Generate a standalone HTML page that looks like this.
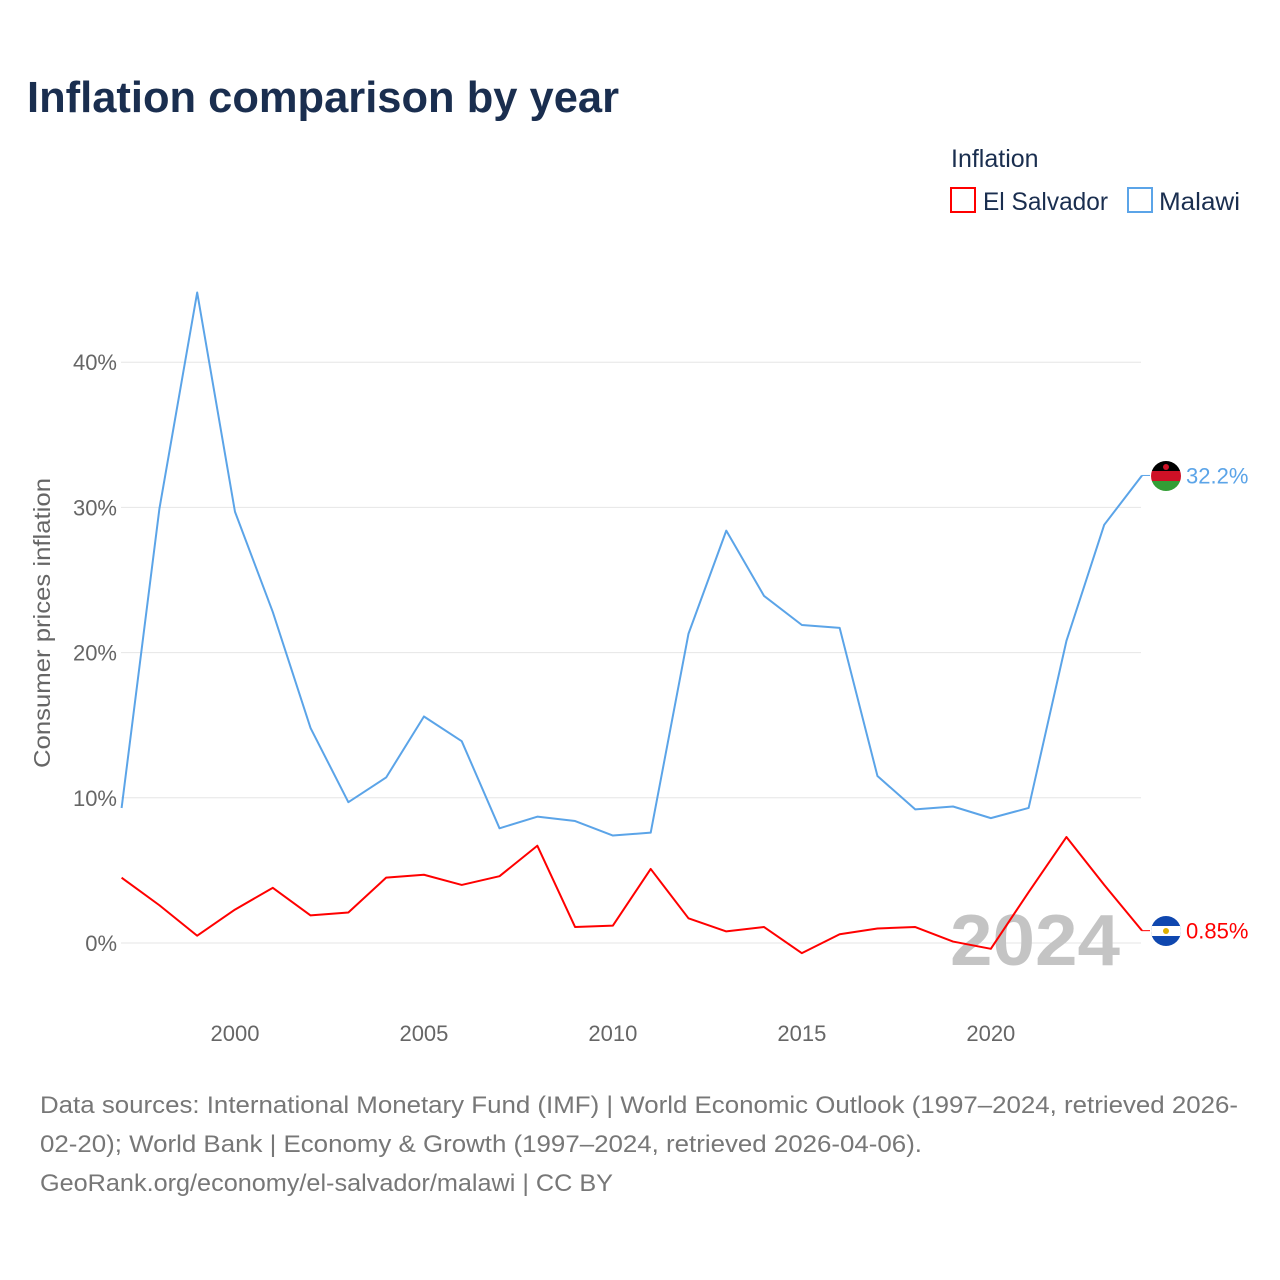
<!DOCTYPE html>
<html><head><meta charset="utf-8"><style>
body{margin:0;background:#fff;font-family:"Liberation Sans",sans-serif;}
#wrap{position:relative;width:1280px;height:1280px;overflow:hidden;}
</style></head><body>
<div id="wrap">
<svg id="chart" width="1280" height="1280">
<text x="27" y="112" font-size="44" font-weight="bold" fill="#1a2e4f" textLength="592" lengthAdjust="spacingAndGlyphs">Inflation comparison by year</text>
<text x="951" y="167" font-size="25" fill="#1a2e4f">Inflation</text>
<g>
<rect x="951" y="188" width="24" height="24" fill="none" stroke="#ff0000" stroke-width="2"/>
<text x="983" y="210" font-size="25" fill="#1a2e4f" textLength="125" lengthAdjust="spacingAndGlyphs">El Salvador</text></g>
<g>
<rect x="1128" y="188" width="24" height="24" fill="none" stroke="#5ba4e8" stroke-width="2"/>
<text x="1159" y="210" font-size="25" fill="#1a2e4f" textLength="81" lengthAdjust="spacingAndGlyphs">Malawi</text></g>
<g id="grid"></g>
<g id="yt"></g>
<g id="xt"></g>
<text x="950" y="965" font-size="72" font-weight="bold" fill="#c4c4c4" textLength="170" lengthAdjust="spacingAndGlyphs">2024</text>
<text transform="translate(50,623) rotate(-90)" text-anchor="middle" font-size="23" fill="#666" textLength="290" lengthAdjust="spacingAndGlyphs">Consumer prices inflation</text>
<g id="series"></g>
<g>
<clipPath id="c1"><circle cx="1166" cy="476" r="15"/></clipPath>
<g clip-path="url(#c1)"><rect x="1150" y="460" width="32" height="11" fill="#000"/><rect x="1150" y="471" width="32" height="10" fill="#ce1126"/><rect x="1150" y="481" width="32" height="11" fill="#339e35"/><circle cx="1166" cy="467" r="3" fill="#ce1126"/></g></g>
<g>
<clipPath id="c2"><circle cx="1166" cy="931" r="15"/></clipPath>
<g clip-path="url(#c2)"><rect x="1150" y="915" width="32" height="32" fill="#0f47af"/><rect x="1150" y="926" width="32" height="10" fill="#fff"/><circle cx="1166" cy="931" r="3" fill="#e0b000"/></g></g>
<text x="40" y="1113" font-size="24" fill="#777" textLength="1198" lengthAdjust="spacingAndGlyphs">Data sources: International Monetary Fund (IMF) | World Economic Outlook (1997–2024, retrieved 2026-</text>
<text x="40" y="1152" font-size="24" fill="#777" textLength="882" lengthAdjust="spacingAndGlyphs">02-20); World Bank | Economy &amp; Growth (1997–2024, retrieved 2026-04-06).</text>
<text x="40" y="1191" font-size="24" fill="#777" textLength="573" lengthAdjust="spacingAndGlyphs">GeoRank.org/economy/el-salvador/malawi | CC BY</text>
</svg>
</div>
<script>
const years=[1997,1998,1999,2000,2001,2002,2003,2004,2005,2006,2007,2008,2009,2010,2011,2012,2013,2014,2015,2016,2017,2018,2019,2020,2021,2022,2023,2024];
const malawi=[9.3,29.9,44.8,29.7,22.8,14.8,9.7,11.4,15.6,13.9,7.9,8.7,8.4,7.4,7.6,21.3,28.4,23.9,21.9,21.7,11.5,9.2,9.4,8.6,9.3,20.8,28.8,32.2];
const elSalvador=[4.5,2.6,0.5,2.3,3.8,1.9,2.1,4.5,4.7,4.0,4.6,6.7,1.1,1.2,5.1,1.7,0.8,1.1,-0.7,0.6,1.0,1.1,0.1,-0.4,3.5,7.3,4.0,0.85];
const yTicks=[0,10,20,30,40];
const xTicks=[2000,2005,2010,2015,2020];
const NS='http://www.w3.org/2000/svg';
const x=v=>121.6+(v-1997)*(1142-121.6)/27;
const y=v=>943-v*14.52;
function mk(t,a,p){const e=document.createElementNS(NS,t);for(const k in a)e.setAttribute(k,a[k]);p.appendChild(e);return e;}
const grid=document.getElementById('grid'),yt=document.getElementById('yt'),xt=document.getElementById('xt'),ser=document.getElementById('series');
yTicks.forEach(t=>{
 const l=mk('line',{x1:121,x2:1141,y1:y(t),y2:y(t),stroke:'#e6e6e6','stroke-width':1},grid);
 
 
 const tx=mk('text',{x:117,y:y(t)+8,'text-anchor':'end','font-size':22,fill:'#666'},yt);
 tx.textContent=t+'%';
 
 
});
xTicks.forEach(t=>{
 const tx=mk('text',{x:x(t),y:1041,'text-anchor':'middle','font-size':22,fill:'#666'},xt);
 tx.textContent=t;
 
 
});
function series(vals,col,name,lab){
 const p=mk('polyline',{points:vals.map((v,i)=>x(years[i])+','+y(v)).join(' '),fill:'none',stroke:col,'stroke-width':2,'stroke-linejoin':'round'},ser);
 
 
 const last=vals[vals.length-1];
 const c=mk('line',{x1:x(years[years.length-1]),x2:1150,y1:y(last),y2:y(last),stroke:col,'stroke-width':1},ser);
 
 
 const t=mk('text',{x:1186,y:y(last)+8,'font-size':22,fill:col},ser);
 t.textContent=lab;
 
 
}
series(malawi,'#5ba4e8','malawi',malawi[malawi.length-1].toFixed(1)+'%');
series(elSalvador,'#ff0000','el-salvador',elSalvador[elSalvador.length-1].toFixed(2)+'%');
</script>
</body></html>
